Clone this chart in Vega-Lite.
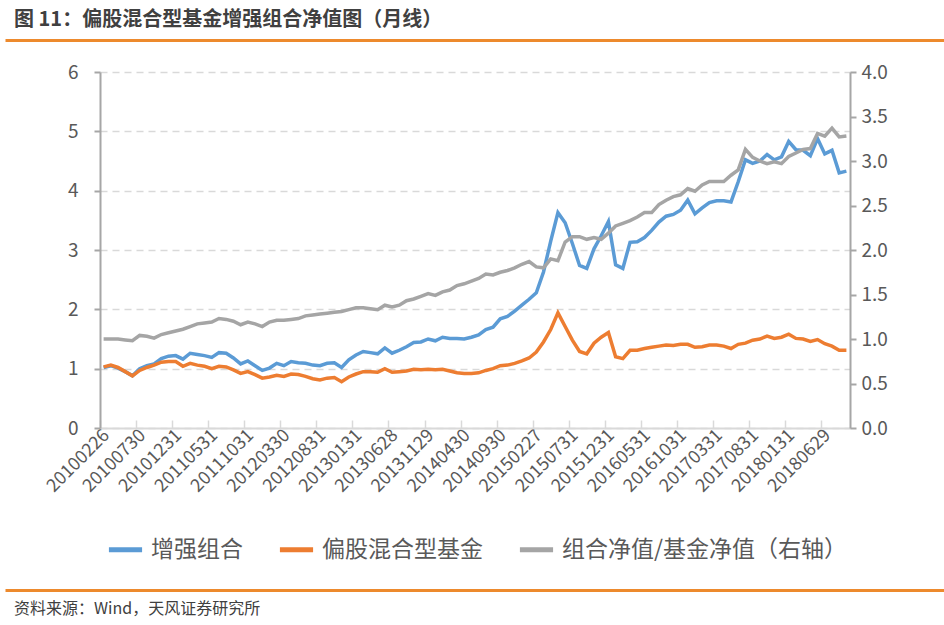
{
  "$schema": "https://vega.github.io/schema/vega-lite/v6.json",
  "background": "white",
  "padding": {"left": 5, "right": 0, "top": 10, "bottom": 1},
  "spacing": 10,
  "bounds": "flush",
  "center": true,
  "resolve": {"scale": {"color": "independent"}, "legend": {"color": "independent"}},
  "config": {
    "font": "Noto Sans CJK SC",
    "view": {"stroke": null},
    "axis": {"labelFont": "Noto Sans CJK SC"},
    "legend": {"labelFont": "Noto Sans CJK SC"}
  },
  "data": {
    "values": [
      {"日期": "20100226", "增强组合": 1.02, "偏股混合型基金": 1.03, "组合净值/基金净值（右轴）": 1.00},
      {"日期": "20100331", "增强组合": 1.05, "偏股混合型基金": 1.06, "组合净值/基金净值（右轴）": 1.00},
      {"日期": "20100430", "增强组合": 1.01, "偏股混合型基金": 1.02, "组合净值/基金净值（右轴）": 1.00},
      {"日期": "20100531", "增强组合": 0.95, "偏股混合型基金": 0.95, "组合净值/基金净值（右轴）": 0.99},
      {"日期": "20100630", "增强组合": 0.88, "偏股混合型基金": 0.88, "组合净值/基金净值（右轴）": 0.98},
      {"日期": "20100730", "增强组合": 1.00, "偏股混合型基金": 0.97, "组合净值/基金净值（右轴）": 1.04},
      {"日期": "20100831", "增强组合": 1.05, "偏股混合型基金": 1.02, "组合净值/基金净值（右轴）": 1.03},
      {"日期": "20100930", "增强组合": 1.08, "偏股混合型基金": 1.06, "组合净值/基金净值（右轴）": 1.01},
      {"日期": "20101029", "增强组合": 1.17, "偏股混合型基金": 1.11, "组合净值/基金净值（右轴）": 1.05},
      {"日期": "20101130", "增强组合": 1.21, "偏股混合型基金": 1.12, "组合净值/基金净值（右轴）": 1.07},
      {"日期": "20101231", "增强组合": 1.22, "偏股混合型基金": 1.12, "组合净值/基金净值（右轴）": 1.09},
      {"日期": "20110131", "增强组合": 1.16, "偏股混合型基金": 1.04, "组合净值/基金净值（右轴）": 1.11},
      {"日期": "20110228", "增强组合": 1.26, "偏股混合型基金": 1.09, "组合净值/基金净值（右轴）": 1.14},
      {"日期": "20110331", "增强组合": 1.24, "偏股混合型基金": 1.06, "组合净值/基金净值（右轴）": 1.17},
      {"日期": "20110429", "增强组合": 1.22, "偏股混合型基金": 1.04, "组合净值/基金净值（右轴）": 1.18},
      {"日期": "20110531", "增强组合": 1.19, "偏股混合型基金": 1.00, "组合净值/基金净值（右轴）": 1.19},
      {"日期": "20110630", "增强组合": 1.27, "偏股混合型基金": 1.04, "组合净值/基金净值（右轴）": 1.23},
      {"日期": "20110729", "增强组合": 1.26, "偏股混合型基金": 1.03, "组合净值/基金净值（右轴）": 1.22},
      {"日期": "20110831", "增强组合": 1.18, "偏股混合型基金": 0.98, "组合净值/基金净值（右轴）": 1.20},
      {"日期": "20110930", "增强组合": 1.08, "偏股混合型基金": 0.92, "组合净值/基金净值（右轴）": 1.16},
      {"日期": "20111031", "增强组合": 1.13, "偏股混合型基金": 0.95, "组合净值/基金净值（右轴）": 1.19},
      {"日期": "20111130", "增强组合": 1.05, "偏股混合型基金": 0.90, "组合净值/基金净值（右轴）": 1.17},
      {"日期": "20111230", "增强组合": 0.97, "偏股混合型基金": 0.84, "组合净值/基金净值（右轴）": 1.14},
      {"日期": "20120131", "增强组合": 1.01, "偏股混合型基金": 0.86, "组合净值/基金净值（右轴）": 1.19},
      {"日期": "20120229", "增强组合": 1.09, "偏股混合型基金": 0.89, "组合净值/基金净值（右轴）": 1.21},
      {"日期": "20120330", "增强组合": 1.05, "偏股混合型基金": 0.87, "组合净值/基金净值（右轴）": 1.21},
      {"日期": "20120427", "增强组合": 1.12, "偏股混合型基金": 0.91, "组合净值/基金净值（右轴）": 1.22},
      {"日期": "20120531", "增强组合": 1.10, "偏股混合型基金": 0.90, "组合净值/基金净值（右轴）": 1.23},
      {"日期": "20120629", "增强组合": 1.09, "偏股混合型基金": 0.87, "组合净值/基金净值（右轴）": 1.26},
      {"日期": "20120731", "增强组合": 1.06, "偏股混合型基金": 0.83, "组合净值/基金净值（右轴）": 1.27},
      {"日期": "20120831", "增强组合": 1.05, "偏股混合型基金": 0.81, "组合净值/基金净值（右轴）": 1.28},
      {"日期": "20120928", "增强组合": 1.09, "偏股混合型基金": 0.84, "组合净值/基金净值（右轴）": 1.29},
      {"日期": "20121031", "增强组合": 1.10, "偏股混合型基金": 0.85, "组合净值/基金净值（右轴）": 1.30},
      {"日期": "20121130", "增强组合": 1.02, "偏股混合型基金": 0.78, "组合净值/基金净值（右轴）": 1.31},
      {"日期": "20121231", "增强组合": 1.15, "偏股混合型基金": 0.86, "组合净值/基金净值（右轴）": 1.33},
      {"日期": "20130131", "增强组合": 1.23, "偏股混合型基金": 0.91, "组合净值/基金净值（右轴）": 1.35},
      {"日期": "20130228", "增强组合": 1.29, "偏股混合型基金": 0.95, "组合净值/基金净值（右轴）": 1.35},
      {"日期": "20130329", "增强组合": 1.27, "偏股混合型基金": 0.95, "组合净值/基金净值（右轴）": 1.34},
      {"日期": "20130426", "增强组合": 1.25, "偏股混合型基金": 0.94, "组合净值/基金净值（右轴）": 1.33},
      {"日期": "20130531", "增强组合": 1.35, "偏股混合型基金": 1.00, "组合净值/基金净值（右轴）": 1.38},
      {"日期": "20130628", "增强组合": 1.26, "偏股混合型基金": 0.94, "组合净值/基金净值（右轴）": 1.36},
      {"日期": "20130731", "增强组合": 1.31, "偏股混合型基金": 0.95, "组合净值/基金净值（右轴）": 1.38},
      {"日期": "20130830", "增强组合": 1.37, "偏股混合型基金": 0.96, "组合净值/基金净值（右轴）": 1.43},
      {"日期": "20130930", "增强组合": 1.44, "偏股混合型基金": 0.99, "组合净值/基金净值（右轴）": 1.45},
      {"日期": "20131031", "增强组合": 1.45, "偏股混合型基金": 0.98, "组合净值/基金净值（右轴）": 1.48},
      {"日期": "20131129", "增强组合": 1.50, "偏股混合型基金": 0.99, "组合净值/基金净值（右轴）": 1.51},
      {"日期": "20131231", "增强组合": 1.47, "偏股混合型基金": 0.98, "组合净值/基金净值（右轴）": 1.49},
      {"日期": "20140130", "增强组合": 1.53, "偏股混合型基金": 0.99, "组合净值/基金净值（右轴）": 1.53},
      {"日期": "20140228", "增强组合": 1.51, "偏股混合型基金": 0.96, "组合净值/基金净值（右轴）": 1.55},
      {"日期": "20140331", "增强组合": 1.51, "偏股混合型基金": 0.93, "组合净值/基金净值（右轴）": 1.60},
      {"日期": "20140430", "增强组合": 1.50, "偏股混合型基金": 0.92, "组合净值/基金净值（右轴）": 1.62},
      {"日期": "20140530", "增强组合": 1.53, "偏股混合型基金": 0.92, "组合净值/基金净值（右轴）": 1.65},
      {"日期": "20140630", "增强组合": 1.57, "偏股混合型基金": 0.93, "组合净值/基金净值（右轴）": 1.68},
      {"日期": "20140731", "增强组合": 1.66, "偏股混合型基金": 0.97, "组合净值/基金净值（右轴）": 1.73},
      {"日期": "20140829", "增强组合": 1.70, "偏股混合型基金": 1.00, "组合净值/基金净值（右轴）": 1.72},
      {"日期": "20140930", "增强组合": 1.84, "偏股混合型基金": 1.05, "组合净值/基金净值（右轴）": 1.75},
      {"日期": "20141031", "增强组合": 1.88, "偏股混合型基金": 1.06, "组合净值/基金净值（右轴）": 1.77},
      {"日期": "20141128", "增强组合": 1.97, "偏股混合型基金": 1.09, "组合净值/基金净值（右轴）": 1.80},
      {"日期": "20141231", "增强组合": 2.07, "偏股混合型基金": 1.13, "组合净值/基金净值（右轴）": 1.84},
      {"日期": "20150130", "增强组合": 2.17, "偏股混合型基金": 1.18, "组合净值/基金净值（右轴）": 1.87},
      {"日期": "20150227", "增强组合": 2.28, "偏股混合型基金": 1.28, "组合净值/基金净值（右轴）": 1.81},
      {"日期": "20150331", "增强组合": 2.63, "偏股混合型基金": 1.45, "组合净值/基金净值（右轴）": 1.80},
      {"日期": "20150430", "增强组合": 3.15, "偏股混合型基金": 1.66, "组合净值/基金净值（右轴）": 1.90},
      {"日期": "20150529", "增强组合": 3.63, "偏股混合型基金": 1.94, "组合净值/基金净值（右轴）": 1.88},
      {"日期": "20150630", "增强组合": 3.46, "偏股混合型基金": 1.71, "组合净值/基金净值（右轴）": 2.09},
      {"日期": "20150731", "增强组合": 3.11, "偏股混合型基金": 1.48, "组合净值/基金净值（右轴）": 2.15},
      {"日期": "20150831", "增强组合": 2.74, "偏股混合型基金": 1.29, "组合净值/基金净值（右轴）": 2.15},
      {"日期": "20150930", "增强组合": 2.69, "偏股混合型基金": 1.25, "组合净值/基金净值（右轴）": 2.12},
      {"日期": "20151030", "增强组合": 3.02, "偏股混合型基金": 1.43, "组合净值/基金净值（右轴）": 2.14},
      {"日期": "20151130", "增强组合": 3.24, "偏股混合型基金": 1.53, "组合净值/基金净值（右轴）": 2.12},
      {"日期": "20151231", "增强组合": 3.48, "偏股混合型基金": 1.61, "组合净值/基金净值（右轴）": 2.19},
      {"日期": "20160129", "增强组合": 2.75, "偏股混合型基金": 1.20, "组合净值/基金净值（右轴）": 2.27},
      {"日期": "20160229", "增强组合": 2.69, "偏股混合型基金": 1.17, "组合净值/基金净值（右轴）": 2.30},
      {"日期": "20160331", "增强组合": 3.13, "偏股混合型基金": 1.31, "组合净值/基金净值（右轴）": 2.33},
      {"日期": "20160429", "增强组合": 3.14, "偏股混合型基金": 1.31, "组合净值/基金净值（右轴）": 2.37},
      {"日期": "20160531", "增强组合": 3.21, "偏股混合型基金": 1.34, "组合净值/基金净值（右轴）": 2.42},
      {"日期": "20160630", "增强组合": 3.33, "偏股混合型基金": 1.36, "组合净值/基金净值（右轴）": 2.42},
      {"日期": "20160729", "增强组合": 3.47, "偏股混合型基金": 1.38, "组合净值/基金净值（右轴）": 2.51},
      {"日期": "20160831", "增强组合": 3.57, "偏股混合型基金": 1.40, "组合净值/基金净值（右轴）": 2.56},
      {"日期": "20160930", "增强组合": 3.60, "偏股混合型基金": 1.39, "组合净值/基金净值（右轴）": 2.60},
      {"日期": "20161031", "增强组合": 3.67, "偏股混合型基金": 1.41, "组合净值/基金净值（右轴）": 2.62},
      {"日期": "20161130", "增强组合": 3.84, "偏股混合型基金": 1.41, "组合净值/基金净值（右轴）": 2.69},
      {"日期": "20161230", "增强组合": 3.61, "偏股混合型基金": 1.36, "组合净值/基金净值（右轴）": 2.66},
      {"日期": "20170126", "增强组合": 3.71, "偏股混合型基金": 1.37, "组合净值/基金净值（右轴）": 2.73},
      {"日期": "20170228", "增强组合": 3.80, "偏股混合型基金": 1.40, "组合净值/基金净值（右轴）": 2.77},
      {"日期": "20170331", "增强组合": 3.83, "偏股混合型基金": 1.40, "组合净值/基金净值（右轴）": 2.77},
      {"日期": "20170428", "增强组合": 3.83, "偏股混合型基金": 1.38, "组合净值/基金净值（右轴）": 2.77},
      {"日期": "20170531", "增强组合": 3.81, "偏股混合型基金": 1.34, "组合净值/基金净值（右轴）": 2.84},
      {"日期": "20170630", "增强组合": 4.15, "偏股混合型基金": 1.41, "组合净值/基金净值（右轴）": 2.90},
      {"日期": "20170731", "增强组合": 4.52, "偏股混合型基金": 1.43, "组合净值/基金净值（右轴）": 3.13},
      {"日期": "20170831", "增强组合": 4.46, "偏股混合型基金": 1.48, "组合净值/基金净值（右轴）": 3.04},
      {"日期": "20170929", "增强组合": 4.50, "偏股混合型基金": 1.50, "组合净值/基金净值（右轴）": 3.00},
      {"日期": "20171031", "增强组合": 4.61, "偏股混合型基金": 1.55, "组合净值/基金净值（右轴）": 2.97},
      {"日期": "20171130", "增强组合": 4.52, "偏股混合型基金": 1.51, "组合净值/基金净值（右轴）": 2.99},
      {"日期": "20171229", "增强组合": 4.57, "偏股混合型基金": 1.53, "组合净值/基金净值（右轴）": 2.97},
      {"日期": "20180131", "增强组合": 4.83, "偏股混合型基金": 1.58, "组合净值/基金净值（右轴）": 3.05},
      {"日期": "20180228", "增强组合": 4.69, "偏股混合型基金": 1.51, "组合净值/基金净值（右轴）": 3.09},
      {"日期": "20180330", "增强组合": 4.68, "偏股混合型基金": 1.50, "组合净值/基金净值（右轴）": 3.13},
      {"日期": "20180427", "增强组合": 4.59, "偏股混合型基金": 1.46, "组合净值/基金净值（右轴）": 3.14},
      {"日期": "20180531", "增强组合": 4.88, "偏股混合型基金": 1.49, "组合净值/基金净值（右轴）": 3.31},
      {"日期": "20180629", "增强组合": 4.62, "偏股混合型基金": 1.42, "组合净值/基金净值（右轴）": 3.28},
      {"日期": "20180731", "增强组合": 4.68, "偏股混合型基金": 1.38, "组合净值/基金净值（右轴）": 3.37},
      {"日期": "20180831", "增强组合": 4.30, "偏股混合型基金": 1.31, "组合净值/基金净值（右轴）": 3.27},
      {"日期": "20180928", "增强组合": 4.33, "偏股混合型基金": 1.31, "组合净值/基金净值（右轴）": 3.28}
    ]
  },
  "vconcat": [
    {
      "width": 940,
      "height": 22,
      "title": {"text": "图 11：偏股混合型基金增强组合净值图（月线）", "anchor": "start", "fontSize": 20, "fontWeight": "bold", "color": "#404040", "offset": 10, "dx": 9},
      "mark": {"type": "text", "text": ""},
      "encoding": {
        "x": {"field": "日期", "type": "ordinal", "axis": {"orient": "top", "title": null, "labels": false, "ticks": false, "grid": false, "domainColor": "#ED8A2D", "domainWidth": 3}}
      }
    },
    {
      "width": 750,
      "height": 356,
      "transform": [{"fold": ["增强组合", "偏股混合型基金", "组合净值/基金净值（右轴）"], "as": ["系列", "净值"]}],
      "encoding": {
        "x": {
          "field": "日期", "type": "ordinal",
          "scale": {"type": "point", "padding": 0.5},
          "axis": {
            "title": null,
            "values": ["20100226","20100730","20101231","20110531","20111031","20120330","20120831","20130131","20130628","20131129","20140430","20140930","20150227","20150731","20151231","20160531","20161031","20170331","20170831","20180131","20180629"],
            "labelAngle": -45, "labelFontSize": 18, "labelColor": "#595959",
            "domainColor": "#D9D9D9", "domainWidth": 2,
            "tickColor": "#D9D9D9", "tickWidth": 1.5, "tickSize": -8, "tickOffset": -3.6,
            "labelPadding": 6
          }
        },
        "color": {
          "field": "系列", "type": "nominal",
          "scale": {"domain": ["增强组合", "偏股混合型基金", "组合净值/基金净值（右轴）"], "range": ["#5B9BD5", "#ED7D31", "#A5A5A5"]},
          "legend": {
            "title": null, "orient": "bottom", "direction": "horizontal",
            "symbolType": "stroke", "symbolStrokeWidth": 5, "symbolSize": 1100,
            "labelFontSize": 23, "labelColor": "#595959", "columnPadding": 26, "labelLimit": 400,
            "offset": 28, "padding": 6, "labelOffset": 6
          }
        }
      },
      "layer": [
        {
          "transform": [{"filter": "datum['系列'] !== '组合净值/基金净值（右轴）'"}],
          "mark": {"type": "line", "strokeWidth": 3.5},
          "encoding": {
            "y": {
              "field": "净值", "type": "quantitative",
              "scale": {"domain": [0, 6]},
              "axis": {
                "title": null, "values": [0, 1, 2, 3, 4, 5, 6], "format": "d",
                "labelFontSize": 19, "labelColor": "#595959",
                "domainColor": "#A6A6A6", "domainWidth": 2,
                "tickColor": "#A6A6A6", "tickWidth": 2, "tickSize": 6, "labelPadding": 16,
                "grid": true, "gridColor": "#D9D9D9", "gridDash": [7, 5], "gridWidth": 1.5
              }
            }
          }
        },
        {
          "transform": [{"filter": "datum['系列'] === '组合净值/基金净值（右轴）'"}],
          "mark": {"type": "line", "strokeWidth": 3.5},
          "encoding": {
            "y": {
              "field": "净值", "type": "quantitative",
              "scale": {"domain": [0, 4]},
              "axis": {
                "orient": "right", "title": null,
                "values": [0, 0.5, 1, 1.5, 2, 2.5, 3, 3.5, 4], "format": ".1f",
                "labelFontSize": 19, "labelColor": "#595959",
                "domainColor": "#A6A6A6", "domainWidth": 2,
                "tickColor": "#A6A6A6", "tickWidth": 2, "tickSize": 6, "labelPadding": 5,
                "grid": false
              }
            }
          }
        }
      ],
      "resolve": {"scale": {"y": "independent"}}
    },
    {
      "width": 940,
      "height": 152,
      "title": {"text": "资料来源：Wind，天风证券研究所", "orient": "bottom", "anchor": "start", "fontSize": 16, "fontWeight": "normal", "color": "#404040", "offset": 11, "dx": 9},
      "mark": {"type": "text", "text": ""},
      "encoding": {
        "x": {"field": "日期", "type": "ordinal", "axis": {"orient": "bottom", "title": null, "labels": false, "ticks": false, "grid": false, "domainColor": "#ED8A2D", "domainWidth": 3}}
      }
    }
  ]
}
